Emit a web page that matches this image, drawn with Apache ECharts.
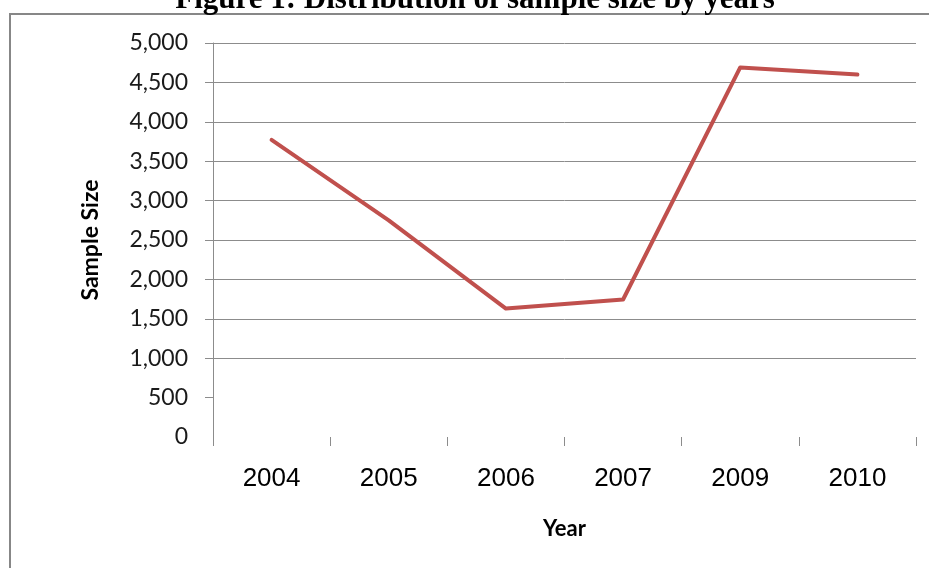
<!DOCTYPE html>
<html>
<head>
<meta charset="utf-8">
<script src="https://cdn.jsdelivr.net/npm/echarts@6/dist/echarts.min.js"></script>
<style>
  html, body { margin: 0; padding: 0; background: #ffffff; }
  #chart { width: 929px; height: 568px; }
</style>
</head>
<body>
<div id="chart"></div>
<script>
// Sample size collected in each survey year
const years = ['2004', '2005', '2006', '2007', '2009', '2010'];
const sampleSize = [3770, 2750, 1630, 1745, 4690, 4600];

// Value axis ticks
const yTicks = [0, 500, 1000, 1500, 2000, 2500, 3000, 3500, 4000, 4500, 5000];

const titleText = 'Figure 1: Distribution of sample size by years';
const gridColor = '#8c8c8c';

const chart = echarts.init(document.getElementById('chart'), null, { renderer: 'canvas' });

chart.setOption({
  backgroundColor: '#ffffff',
  animation: false,
  graphic: [
    {
      type: 'rect',
      z: -10,
      silent: true,
      shape: { x: 10, y: 14, width: 1000, height: 1000 },
      style: { fill: '#ffffff', stroke: '#878787', lineWidth: 2 }
    },
    {
      type: 'text',
      silent: true,
      x: 475,
      y: 0,
      style: {
        text: titleText,
        fill: '#000000',
        font: 'bold 31px "Liberation Serif", "Times New Roman", serif',
        textAlign: 'center',
        textVerticalAlign: 'middle'
      }
    }
  ],
  grid: { left: 213, right: 13, top: 43, bottom: 131, containLabel: false },
  xAxis: {
    type: 'category',
    data: years,
    boundaryGap: true,
    name: 'Year',
    nameLocation: 'middle',
    nameGap: 81,
    nameTextStyle: { fontFamily: 'Lato', fontWeight: 'bold', fontSize: 22, color: '#000000' },
    axisLine: { show: false },
    axisTick: { show: true, length: 9, alignWithLabel: false, lineStyle: { color: gridColor, width: 1 } },
    axisLabel: { margin: 29, fontFamily: '"Liberation Sans", Arial, sans-serif', fontSize: 26, color: '#000000' },
    splitLine: { show: false }
  },
  yAxis: {
    type: 'value',
    min: yTicks[0],
    max: yTicks[yTicks.length - 1],
    interval: yTicks[1] - yTicks[0],
    name: 'Sample Size',
    nameLocation: 'middle',
    nameGap: 111,
    nameRotate: 90,
    nameTextStyle: { fontFamily: 'Lato', fontWeight: 'bold', fontSize: 23, color: '#000000' },
    axisLine: { show: true, lineStyle: { color: gridColor, width: 1 } },
    axisTick: {
      show: true,
      length: 8,
      customValues: yTicks.slice(1),
      lineStyle: { color: gridColor, width: 1 }
    },
    axisLabel: {
      margin: 25,
      fontFamily: 'Lato',
      fontSize: 23,
      color: '#1a1a1a',
      formatter: v => v.toLocaleString('en-US')
    },
    splitLine: {
      show: true,
      lineStyle: {
        width: 1,
        color: yTicks.map((t, i) => (i === 0 ? 'rgba(0,0,0,0)' : gridColor))
      }
    }
  },
  series: [
    {
      type: 'line',
      data: sampleSize,
      symbol: 'none',
      smooth: false,
      lineStyle: { color: '#c0504d', width: 4, cap: 'round', join: 'round' }
    }
  ]
});
</script>
</body>
</html>
